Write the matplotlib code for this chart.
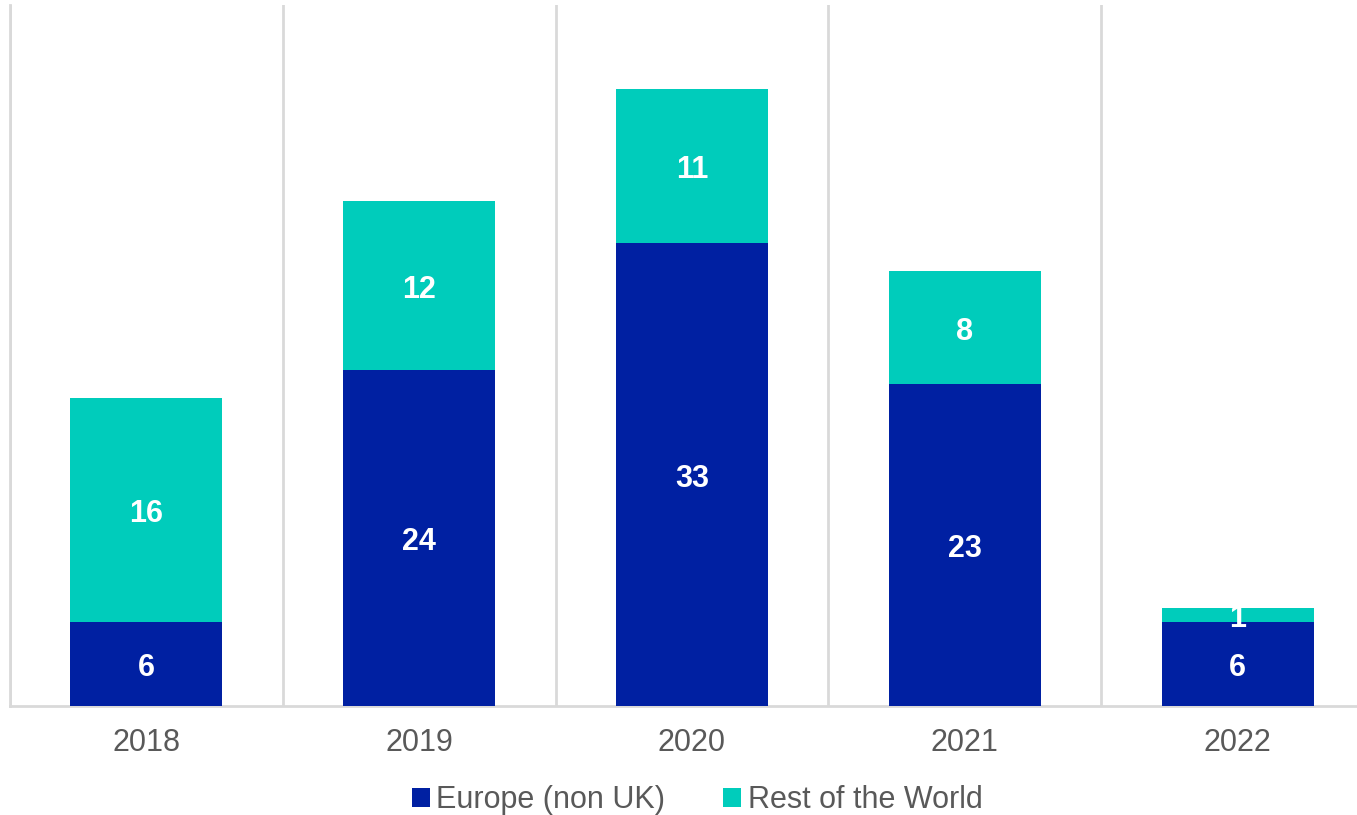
import matplotlib.pyplot as plt
import numpy as np

plt.rcParams['font.family'] = ['Liberation Sans', 'DejaVu Sans']

years = ['2018', '2019', '2020', '2021', '2022']
europe = [6, 24, 33, 23, 6]
rest_world = [16, 12, 11, 8, 1]

navy = '#0020A2'
teal = '#00CCBB'
grid_col = '#D9D9D9'

fig = plt.figure(figsize=(13.57, 8.15), dpi=100)
# the plot area runs past the right edge of the picture, as in the original
ax = fig.add_axes([10 / 1357, 109 / 815, 1364 / 1357, 701 / 815])

x = np.arange(len(years))
w = 0.557
ax.bar(x, europe, w, color=navy, label='Europe (non UK)', zorder=3)
ax.bar(x, rest_world, w, bottom=europe, color=teal, label='Rest of the World', zorder=3)

# value labels in the middle of each segment
for i in range(len(years)):
    for v, base in ((europe[i], 0), (rest_world[i], europe[i])):
        ax.annotate(str(v), (x[i], base + v / 2), xytext=(0, -3), textcoords='offset points',
                    ha='center', va='center', color='white', fontsize=22, fontweight='bold',
                    zorder=4)

ax.set_xlim(-0.5, len(years) - 0.5)
ax.set_ylim(0, 50)
ax.set_xticks(x)
ax.set_xticklabels(years, fontsize=22, color='#595959')
ax.set_xticks(np.arange(len(years) + 1) - 0.5, minor=True)
ax.tick_params(axis='x', which='both', length=0, pad=16)
ax.set_yticks([])
ax.grid(axis='x', which='minor', color=grid_col, linewidth=2, zorder=0)

for s in ['top', 'right']:
    ax.spines[s].set_visible(False)
ax.spines['left'].set_color(grid_col)
ax.spines['left'].set_linewidth(2)
ax.spines['bottom'].set_color(grid_col)
ax.spines['bottom'].set_linewidth(2)

fig.legend(loc='center', bbox_to_anchor=(697 / 1357, 1 - 800 / 815), ncol=2, frameon=False,
           fontsize=22, handlelength=0.6, handleheight=0.6, handletextpad=0.2,
           columnspacing=1.9, labelcolor='#595959', borderpad=0.1)

fig.savefig('out.png', dpi=100)
